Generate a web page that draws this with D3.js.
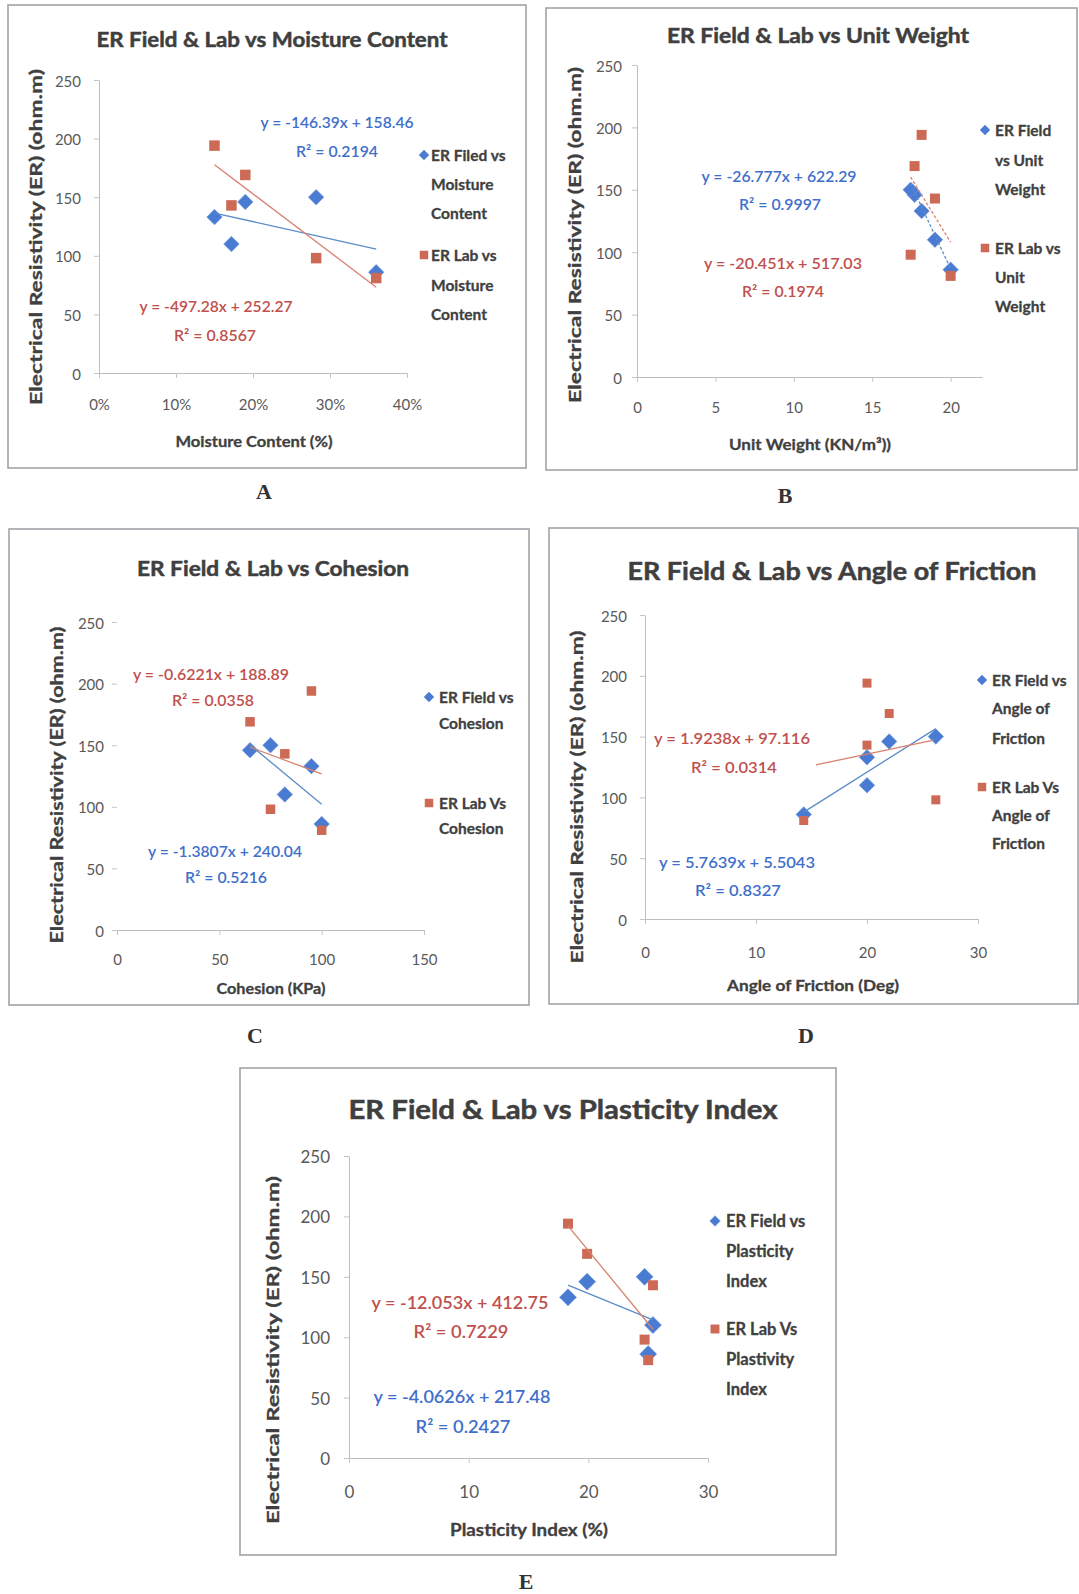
<!DOCTYPE html>
<html><head><meta charset="utf-8">
<script src="https://cdn.jsdelivr.net/npm/d3@7"></script>
<style>body{margin:0;background:#fff} svg{display:block}</style>
</head><body>
<svg id="c" width="1079" height="1594"></svg>
<script>
// ---------- DATA ----------
const sampleIds = ["S1", "S2", "S3", "S4", "S5"];
const erField = [133, 110, 146, 150, 86];
const erLab = [194, 143, 169, 98, 81];
const moistureContent = [0.15, 0.172, 0.19, 0.282, 0.36];
const unitWeight = [18.15, 19.0, 17.7, 17.45, 20.0];
const cohesion = [95, 82, 65, 75, 100];
const frictionAngle = [20, 20, 22, 26.2, 14.3];
const plasticityIndex = [18.3, 25.4, 19.9, 24.7, 25.0];

const yTicks = [0, 50, 100, 150, 200, 250];
const xTickValues = [[0, 0.1, 0.2, 0.3, 0.4], [0, 5, 10, 15, 20], [0, 50, 100, 150], [0, 10, 20, 30], [0, 10, 20, 30]];
const xMax = [0.4, 22, 150, 30, 30];

const titles = ["ER Field & Lab vs Moisture Content", "ER Field & Lab vs Unit Weight", "ER Field & Lab vs Cohesion",
  "ER Field & Lab vs Angle of Friction", "ER Field & Lab vs Plasticity Index"];
const xTitles = ["Moisture Content (%)", "Unit Weight (KN/m³))", "Cohesion (KPa)", "Angle of Friction (Deg)", "Plasticity Index (%)"];
const yTitle = "Electrical Resistivity (ER) (ohm.m)";
const panelLetters = ["A", "B", "C", "D", "E"];
const fieldLegend = [["ER Filed vs", "Moisture", "Content"], ["ER Field", "vs Unit", "Weight"], ["ER Field vs", "Cohesion"],
  ["ER Field vs", "Angle of", "Friction"], ["ER Field vs", "Plasticity", "Index"]];
const labLegend = [["ER Lab vs", "Moisture", "Content"], ["ER Lab vs", "Unit", "Weight"], ["ER Lab Vs", "Cohesion"],
  ["ER Lab Vs", "Angle of", "Friction"], ["ER Lab Vs", "Plastivity", "Index"]];

const fieldSlope = [-146.39, -26.777, -1.3807, 5.7639, -4.0626];
const fieldIntercept = [158.46, 622.29, 240.04, 5.5043, 217.48];
const fieldR2 = ["0.2194", "0.9997", "0.5216", "0.8327", "0.2427"];
const labSlope = [-497.28, -20.451, -0.6221, 1.9238, -12.053];
const labIntercept = [252.27, 517.03, 188.89, 97.116, 412.75];
const labR2 = ["0.8567", "0.1974", "0.0358", "0.0314", "0.7229"];
const fieldTrendRange = [[0.15, 0.36], [17.45, 20.0], [65, 100], [14.3, 26.2], [18.3, 25.4]];
const labTrendRange = [[0.15, 0.36], [17.45, 20.0], [65, 100], [15.4, 26.0], [18.3, 25.4]];

const xData = [moistureContent, unitWeight, cohesion, frictionAngle, plasticityIndex];

// ---------- LAYOUT / STYLE ----------
const FONT = "Lato, 'Open Sans', sans-serif";
const BLUE = "#4a7bd2", RED = "#cc6a56";
const BLUE_TXT = "#3f6fcb", RED_TXT = "#c0504d";
const BLUE_LINE = "#5b8bc9", RED_LINE = "#d8826e";

const layouts = [
  { frame: [8, 5, 526, 468], xr: [99, 407], yr: [373, 80], yAxisLine: true,
    title: [272, 38, 351, 21], yLab: [35, 237, 336, 17], xTitle: [254, 441, 157, 15.5], tickX: 31, tickYend: 18, tickSize: 15,
    leg: { dx: 424, tx: 431, f: [155, 184, 213], l: [255, 285, 314], size: 15.5, mk: 1 },
    eqF: [337, 122, 153, 337, 151, 82], eqL: [216, 306, 153, 215, 335, 82], eqSize: 15.5,
    letter: [264, 491], dm: 15.5, sq: 10.5, dash: null },
  { frame: [546, 8, 1077, 470], xr: [637, 982], yr: [377, 65], yAxisLine: true,
    title: [818, 34, 302, 21], yLab: [574, 235, 336, 17], xTitle: [810, 444, 162, 15.5], tickX: 30, tickYend: 15, tickSize: 15,
    leg: { dx: 985, tx: 995, f: [130, 160, 189], l: [248, 277, 306], size: 15.5, mk: 1 },
    eqF: [779, 176, 155, 780, 204, 82], eqL: [783, 263, 158, 783, 291, 82], eqSize: 15.5,
    letter: [785, 495], dm: 15.5, sq: 10, dash: "3,2" },
  { frame: [9, 529, 529, 1005], xr: [117, 424], yr: [930, 622], yAxisLine: false,
    title: [273, 567, 272, 21], yLab: [57, 785, 317, 16.5], xTitle: [271, 988, 109, 15.5], tickX: 29, tickYend: 13, tickSize: 15,
    leg: { dx: 429, tx: 439, f: [697, 723], l: [803, 828], size: 15.5, mk: 1 },
    eqF: [225, 851, 154, 226, 877, 82], eqL: [211, 674, 156, 213, 700, 82], eqSize: 15.5,
    letter: [255, 1035], dm: 15.5, sq: 9.5, dash: null },
  { frame: [549, 528, 1078, 1004], xr: [645, 978], yr: [919, 615], yAxisLine: true,
    title: [832, 570, 409, 24], yLab: [576, 797, 333, 17], xTitle: [813, 985, 172, 15.5], tickX: 33, tickYend: 18, tickSize: 15,
    leg: { dx: 982, tx: 992, f: [680, 708, 738], l: [787, 815, 843], size: 15.5, mk: 1 },
    eqF: [737, 862, 156, 738, 890, 86], eqL: [732, 738, 156, 734, 767, 86], eqSize: 15.5,
    letter: [806, 1035], dm: 15.5, sq: 9, dash: null },
  { frame: [240, 1068, 836, 1555], xr: [349, 708], yr: [1458, 1156], yAxisLine: true,
    title: [563, 1109, 429, 26], yLab: [272, 1350, 348, 17.5], xTitle: [529, 1530, 158, 16.5], tickX: 33, tickYend: 19, tickSize: 17,
    leg: { dx: 715, tx: 726, f: [1221, 1251, 1281], l: [1329, 1359, 1389], size: 16.5, mk: 1.05 },
    eqF: [462, 1396, 177, 463, 1426, 95], eqL: [460, 1302, 177, 461, 1331, 95], eqSize: 17.5,
    letter: [526, 1581], dm: 17, sq: 10, dash: null }
];

const svg = d3.select("#c");
svg.append("rect").attr("width", 1079).attr("height", 1594).attr("fill", "#fff");

function txt(g, x, y, s, o) {
  const t = g.append("text").attr("x", x).attr("y", y).text(s)
    .attr("dominant-baseline", "central")
    .attr("text-anchor", o.anchor || "middle")
    .attr("font-size", o.size).attr("font-weight", o.weight || 400)
    .attr("fill", o.color || "#404040")
    .attr("font-family", o.family || FONT);
  if (o.len) t.attr("textLength", o.len).attr("lengthAdjust", o.adjust || "spacingAndGlyphs");
  if (o.heavy) t.attr("stroke", o.color || "#404040").attr("stroke-width", o.heavy);
  return t;
}
const diamond = (g, cx, cy, diag, fill) => {
  const side = diag / Math.SQRT2;
  g.append("path").attr("d", d3.symbol(d3.symbolSquare, side * side)())
    .attr("transform", `translate(${cx},${cy}) rotate(45)`)
    .attr("fill", fill).attr("stroke", "#6f96dc").attr("stroke-width", 0.6);
};
const square = (g, cx, cy, side, fill) => {
  g.append("path").attr("d", d3.symbol(d3.symbolSquare, side * side)())
    .attr("transform", `translate(${cx},${cy})`).attr("fill", fill);
};
const eqText = (m, b) => `y = ${m}x + ${b}`;

layouts.forEach((L, i) => {
  const g = svg.append("g");
  g.append("rect").attr("x", L.frame[0]).attr("y", L.frame[1])
    .attr("width", L.frame[2] - L.frame[0]).attr("height", L.frame[3] - L.frame[1])
    .attr("fill", "#fff").attr("stroke", "#a0a4a8").attr("stroke-width", 1.6);

  const x = d3.scaleLinear().domain([0, xMax[i]]).range(L.xr);
  const y = d3.scaleLinear().domain([0, 250]).range(L.yr);

  // y axis
  const ya = g.append("g").attr("transform", `translate(${L.xr[0]},0)`)
    .call(d3.axisLeft(y).tickValues(yTicks).tickSize(5).tickSizeOuter(0));
  ya.select(".domain").attr("stroke", L.yAxisLine ? "#bdbdbd" : "none");
  ya.selectAll(".tick line").attr("stroke", "#c4c4c4");
  ya.selectAll(".tick text").attr("x", -L.tickYend).attr("dy", null).attr("dominant-baseline", "central")
    .attr("font-family", FONT).attr("font-size", L.tickSize).attr("fill", "#595959");

  // x axis
  const fmt = i === 0 ? d3.format(".0%") : d3.format("d");
  const xa = g.append("g").attr("transform", `translate(0,${L.yr[0]})`)
    .call(d3.axisBottom(x).tickValues(xTickValues[i]).tickFormat(fmt).tickSize(5).tickSizeOuter(0));
  xa.select(".domain").attr("stroke", "#bdbdbd");
  xa.selectAll(".tick line").attr("stroke", "#c4c4c4");
  xa.selectAll(".tick text").attr("y", L.tickX).attr("dy", null).attr("dominant-baseline", "central")
    .attr("font-family", FONT).attr("font-size", L.tickSize).attr("fill", "#595959");

  // titles
  txt(g, L.title[0], L.title[1], titles[i], { size: L.title[3], weight: 700, len: L.title[2], color: "#3f3f3f", heavy: 0.5 });
  txt(g, L.xTitle[0], L.xTitle[1], xTitles[i], { size: L.xTitle[3], weight: 700, len: L.xTitle[2], color: "#404040", heavy: 0.3 });
  txt(g, 0, 0, yTitle, { size: L.yLab[3], weight: 700, len: L.yLab[2], color: "#404040", heavy: 0.3 })
    .attr("transform", `translate(${L.yLab[0]},${L.yLab[1]}) rotate(-90)`);

  // points
  const xs = xData[i];
  xs.forEach((xv, k) => diamond(g, x(xv), y(erField[k]), L.dm, BLUE));
  xs.forEach((xv, k) => square(g, x(xv), y(erLab[k]), L.sq, RED));

  // trendlines
  const line = d3.line().x(d => x(d[0])).y(d => y(d[1]));
  const fT = fieldTrendRange[i].map(v => [v, fieldSlope[i] * v + fieldIntercept[i]]);
  const lT = labTrendRange[i].map(v => [v, labSlope[i] * v + labIntercept[i]]);
  g.append("path").attr("d", line(fT)).attr("fill", "none").attr("stroke", BLUE_LINE).attr("stroke-width", 1.3)
    .attr("stroke-dasharray", L.dash);
  g.append("path").attr("d", line(lT)).attr("fill", "none").attr("stroke", RED_LINE).attr("stroke-width", 1.3)
    .attr("stroke-dasharray", L.dash);

  // equations
  txt(g, L.eqF[0], L.eqF[1], eqText(fieldSlope[i], fieldIntercept[i]), { size: L.eqSize, weight: 600, len: L.eqF[2], color: BLUE_TXT });
  txt(g, L.eqF[3], L.eqF[4], "R² = " + fieldR2[i], { size: L.eqSize, weight: 600, len: L.eqF[5], color: BLUE_TXT });
  txt(g, L.eqL[0], L.eqL[1], eqText(labSlope[i], labIntercept[i]), { size: L.eqSize, weight: 600, len: L.eqL[2], color: RED_TXT });
  txt(g, L.eqL[3], L.eqL[4], "R² = " + labR2[i], { size: L.eqSize, weight: 600, len: L.eqL[5], color: RED_TXT });

  // legend
  diamond(g, L.leg.dx, L.leg.f[0], 10 * L.leg.mk, BLUE);
  fieldLegend[i].forEach((s, k) => txt(g, L.leg.tx, L.leg.f[k], s, { size: L.leg.size, weight: 700, anchor: "start", color: "#404040", heavy: 0.3 }));
  square(g, L.leg.dx, L.leg.l[0], 8.5 * L.leg.mk, RED);
  labLegend[i].forEach((s, k) => txt(g, L.leg.tx, L.leg.l[k], s, { size: L.leg.size, weight: 700, anchor: "start", color: "#404040", heavy: 0.3 }));

  // panel letter
  txt(svg, L.letter[0], L.letter[1], panelLetters[i], { size: 22, weight: 700, color: "#333", family: "'Liberation Serif', 'DejaVu Serif', serif" });
});
</script>
</body></html>
